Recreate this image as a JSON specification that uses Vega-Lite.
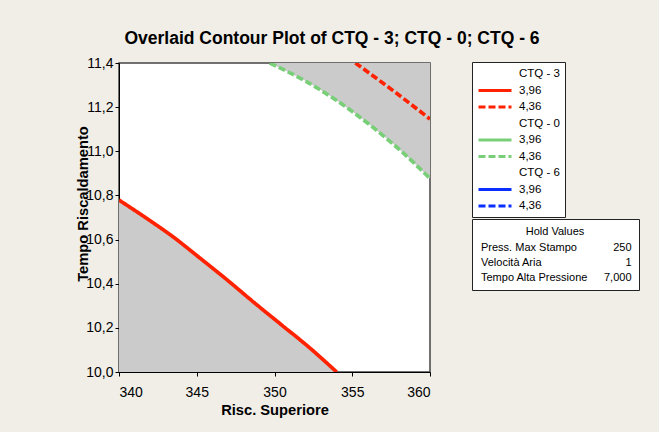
{
  "$schema": "https://vega.github.io/schema/vega-lite/v6.json",
  "width": 311,
  "height": 309,
  "autosize": {"type": "none"},
  "padding": {"left": 119, "top": 63, "right": 229, "bottom": 60},
  "background": "#F1EEE8",
  "title": {
    "text": "Overlaid Contour Plot of CTQ - 3; CTQ - 0; CTQ - 6",
    "font": "Liberation Sans",
    "fontSize": 17.5,
    "fontWeight": "bold",
    "color": "black",
    "anchor": "middle",
    "dx": 57.5,
    "offset": 8.5
  },
  "config": {
    "view": {"fill": "white", "stroke": "#444", "strokeWidth": 1.5},
    "font": "Liberation Sans",
    "axis": {
      "domainColor": "black",
      "tickColor": "black",
      "labelColor": "black",
      "titleColor": "black",
      "labelFont": "Liberation Sans",
      "titleFont": "Liberation Sans",
      "grid": false,
      "tickSize": 4,
      "labelFontSize": 14,
      "titleFontSize": 14.7,
      "titleFontWeight": "bold"
    }
  },
  "datasets": {
    "contours": [
      {"series": "CTQ - 3: 3,96", "x": 340, "y": 10.779},
      {"series": "CTQ - 3: 3,96", "x": 341.78, "y": 10.696},
      {"series": "CTQ - 3: 3,96", "x": 343.6, "y": 10.606},
      {"series": "CTQ - 3: 3,96", "x": 345.1, "y": 10.522},
      {"series": "CTQ - 3: 3,96", "x": 346.82, "y": 10.425},
      {"series": "CTQ - 3: 3,96", "x": 348.75, "y": 10.311},
      {"series": "CTQ - 3: 3,96", "x": 350.46, "y": 10.213},
      {"series": "CTQ - 3: 3,96", "x": 352.17, "y": 10.115},
      {"series": "CTQ - 3: 3,96", "x": 354.0, "y": 10.0},
      {"series": "CTQ - 3: 4,36", "x": 355.2, "y": 11.4},
      {"series": "CTQ - 3: 4,36", "x": 357.6, "y": 11.276},
      {"series": "CTQ - 3: 4,36", "x": 360, "y": 11.146},
      {"series": "CTQ - 0: 4,36", "x": 349.7, "y": 11.4},
      {"series": "CTQ - 0: 4,36", "x": 351, "y": 11.355},
      {"series": "CTQ - 0: 4,36", "x": 352, "y": 11.318},
      {"series": "CTQ - 0: 4,36", "x": 353, "y": 11.276},
      {"series": "CTQ - 0: 4,36", "x": 354, "y": 11.23},
      {"series": "CTQ - 0: 4,36", "x": 355, "y": 11.18},
      {"series": "CTQ - 0: 4,36", "x": 356, "y": 11.127},
      {"series": "CTQ - 0: 4,36", "x": 357, "y": 11.07},
      {"series": "CTQ - 0: 4,36", "x": 358, "y": 11.01},
      {"series": "CTQ - 0: 4,36", "x": 359, "y": 10.945},
      {"series": "CTQ - 0: 4,36", "x": 360, "y": 10.877}
    ],
    "hold": [
      {"param": "Press. Max Stampo", "value": "250"},
      {"param": "Velocità Aria", "value": "1"},
      {"param": "Tempo Alta Pressione", "value": "7,000"}
    ]
  },
  "encoding": {
    "x": {
      "field": "x",
      "type": "quantitative",
      "scale": {"domain": [340, 360], "nice": false, "zero": false},
      "axis": {
        "title": "Risc. Superiore",
        "values": [340, 345, 350, 355, 360],
        "labelPadding": 9,
        "titleY": 42,
        "titleBaseline": "alphabetic"
      }
    },
    "y": {
      "field": "y",
      "type": "quantitative",
      "scale": {"domain": [10, 11.4], "nice": false, "zero": false},
      "axis": {
        "title": "Tempo Riscaldamento",
        "values": [10, 10.2, 10.4, 10.6, 10.8, 11, 11.2, 11.4],
        "labelExpr": "replace(format(datum.value, '.1f'), '.', ',')",
        "labelPadding": 2,
        "titleX": -31.5,
        "titleY": 140.5,
        "titleBaseline": "alphabetic",
        "titleAngle": -90
      }
    }
  },
  "layer": [
    {
      "data": {"name": "contours"},
      "transform": [{"filter": "datum.series === 'CTQ - 3: 3,96'"}],
      "mark": {"type": "area", "color": "#CBCBCB", "clip": true, "interpolate": "monotone"},
      "encoding": {"y2": {"datum": 10}}
    },
    {
      "data": {"name": "contours"},
      "transform": [{"filter": "datum.series === 'CTQ - 0: 4,36'"}],
      "mark": {"type": "area", "color": "#CBCBCB", "clip": true, "interpolate": "monotone"},
      "encoding": {"y2": {"datum": 11.4}}
    },
    {
      "data": {"name": "contours"},
      "mark": {"type": "line", "strokeWidth": 3.7, "clip": true, "interpolate": "monotone"},
      "encoding": {
        "color": {
          "field": "series",
          "type": "nominal",
          "scale": {
            "domain": ["CTQ - 3", "CTQ - 3: 3,96", "CTQ - 3: 4,36", "CTQ - 0", "CTQ - 0: 3,96", "CTQ - 0: 4,36", "CTQ - 6", "CTQ - 6: 3,96", "CTQ - 6: 4,36"],
            "range": ["rgba(0,0,0,0)", "#FF2200", "#FF2200", "rgba(0,0,0,0)", "#78CF78", "#78CF78", "rgba(0,0,0,0)", "#0A2EFF", "#0A2EFF"]
          },
          "legend": {
            "title": null,
            "orient": "none",
            "legendX": 353,
            "legendY": -1,
            "padding": 5,
            "rowPadding": 3.5,
            "symbolType": "M-1,0H5",
            "symbolSize": 121,
            "symbolStrokeWidth": 3,
            "labelOffset": 28,
            "labelFont": "Liberation Sans",
            "labelFontSize": 11.5,
            "labelColor": "black",
            "strokeColor": "#222",
            "fillColor": "white",
            "labelExpr": "indexof(datum.label, ': ') >= 0 ? substring(datum.label, indexof(datum.label, ': ') + 2) : datum.label"
          }
        },
        "strokeDash": {
          "field": "series",
          "type": "nominal",
          "scale": {
            "domain": ["CTQ - 3", "CTQ - 3: 3,96", "CTQ - 3: 4,36", "CTQ - 0", "CTQ - 0: 3,96", "CTQ - 0: 4,36", "CTQ - 6", "CTQ - 6: 3,96", "CTQ - 6: 4,36"],
            "range": [[1, 0], [1, 0], [7, 3], [1, 0], [1, 0], [7, 3], [1, 0], [1, 0], [7, 3]]
          }
        }
      }
    },
    {
      "data": {"name": "hold"},
      "transform": [{"fold": ["param", "value"], "as": ["k", "v"]}],
      "mark": {"type": "point", "opacity": 0},
      "encoding": {
        "shape": {
          "field": "v",
          "type": "nominal",
          "scale": {"domain": ["Press. Max Stampo", "Velocità Aria", "Tempo Alta Pressione", "250", "1", "7,000"]},
          "legend": {
            "title": "Hold Values",
            "orient": "none",
            "legendX": 353,
            "legendY": 156,
            "columns": 2,
            "columnPadding": 14,
            "rowPadding": 3,
            "padding": 7,
            "symbolSize": 0,
            "symbolOpacity": 0,
            "symbolStrokeWidth": 0,
            "labelOffset": -9,
            "titleAnchor": "middle",
            "titleFont": "Liberation Sans",
            "titleFontWeight": "normal",
            "titleFontSize": 11,
            "titleColor": "black",
            "titlePadding": 5,
            "labelFont": "Liberation Sans",
            "labelFontSize": 11,
            "labelColor": "black",
            "strokeColor": "#222",
            "fillColor": "white",
            "labelExpr": "datum.label === '250' ? '\u200b\u00a0\u00a0\u00a0250' : datum.label === '1' ? '\u200b\u00a0\u00a0\u00a0\u00a0\u00a0\u00a0\u00a01' : datum.label"
          }
        }
      }
    }
  ]
}
